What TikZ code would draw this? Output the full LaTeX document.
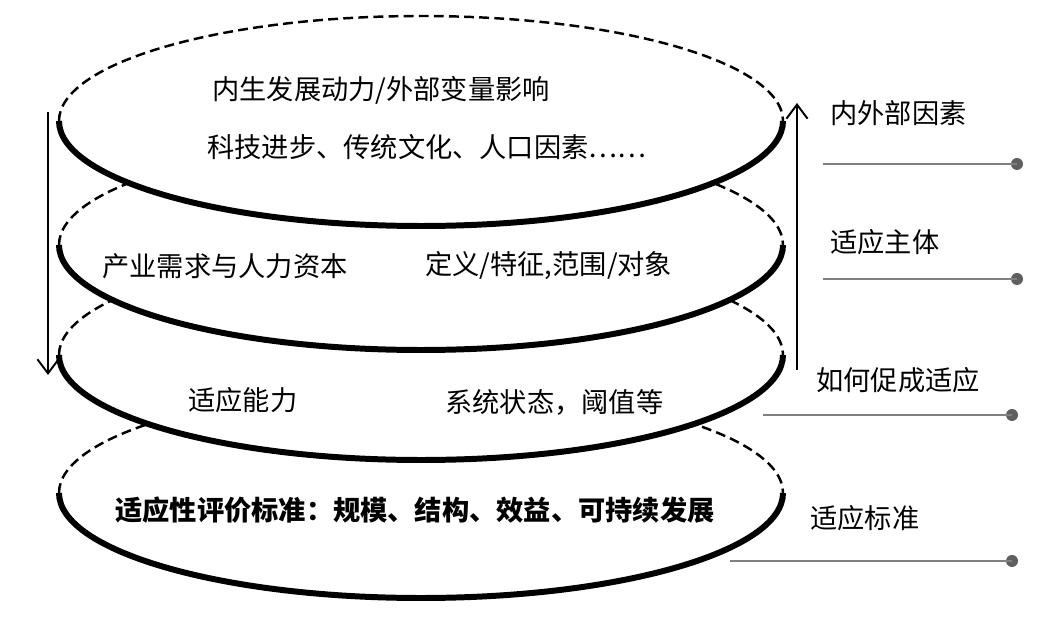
\documentclass[tikz,border=0pt]{standalone}
\usepackage{fontspec}
\newfontfamily\cjk{Noto Sans CJK SC}
\usetikzlibrary{arrows.meta}
\definecolor{linegray}{RGB}{128,128,128}
\definecolor{dotgray}{RGB}{95,95,95}
\tikzset{
  layertop/.style={line width=1.4pt, dash pattern=on 5.6pt off 3pt},
  layerbottom/.style={line width=3.4pt},
  layertext/.style={font=\cjk\fontsize{15.5}{18}\selectfont, inner sep=0pt, anchor=west},
  sidelabel/.style={layertext},
  flow/.style={line width=1.1pt, -{Straight Barb[length=8pt,width=12pt,line width=1.1pt]}},
  leader/.style={linegray, line width=1.1pt},
  enddot/.style={circle, fill=dotgray, minimum size=0.24cm, inner sep=0pt}
}
\begin{document}
\begin{tikzpicture}[xshift=0cm, scale=1]

    \useasboundingbox (0,0) rectangle (21.12,12.5);

    % Stacked layers, drawn bottom to top so each one covers the one below
    \foreach \cy in {2.64,5.4,7.6,10.08} {
        \fill[white] (8.42,\cy) ellipse [x radius=7.24, y radius=2.1];
        \draw[layertop] (1.18,\cy) arc [start angle=180, end angle=0, x radius=7.24, y radius=2.1];
        \draw[layerbottom] (1.18,\cy) arc [start angle=180, end angle=360, x radius=7.24, y radius=2.1];
    }

    % Texts inside the layers
    \node[layertext] (force) at (4.24, 10.7) {内生发展动力/外部变量影响};
    \node[layertext] (factors) at (4.14, 9.56) {科技进步、传统文化、人口因素……};
    \node[layertext] (demand) at (2.04, 7.18) {产业需求与人力资本};
    \node[layertext] (define) at (8.5, 7.18) {定义/特征,范围/对象};
    \node[layertext] (ability) at (3.76, 4.5) {适应能力};
    \node[layertext] (state) at (8.9, 4.46) {系统状态，阈值等};
    \node[layertext, font=\cjk\bfseries\fontsize{15.5}{18}\selectfont] (criteria) at (2.3, 2.3) {适应性评价标准：规模、结构、效益、可持续发展};

    % Down arrow on the left, up arrow on the right
    \coordinate (downstart) at (0.96, 10.26);
    \coordinate (downend) at (0.96, 5.0);
    \coordinate (upstart) at (15.94, 5.1);
    \coordinate (upend) at (15.94, 10.44);
    \draw[flow] (downstart) -- (downend);
    \draw[flow] (upstart) -- (upend);

    % Labels on the right with leader lines
    \node[sidelabel] (outer) at (16.6, 10.24) {内外部因素};
    \node[sidelabel] (subject) at (16.6, 7.66) {适应主体};
    \node[sidelabel] (how) at (16.32, 4.9) {如何促成适应};
    \node[sidelabel] (standard) at (16.2, 2.14) {适应标准};

    \coordinate (lead1) at (16.46, 9.22);
    \coordinate (lead2) at (16.46, 6.92);
    \coordinate (lead3) at (15.26, 4.2);
    \coordinate (lead4) at (14.6, 1.28);
    \node[enddot] (dot1) at (20.34, 9.22) {};
    \node[enddot] (dot2) at (20.34, 6.92) {};
    \node[enddot] (dot3) at (20.24, 4.2) {};
    \node[enddot] (dot4) at (20.24, 1.28) {};
    \draw[leader] (lead1) -- (dot1.center);
    \draw[leader] (lead2) -- (dot2.center);
    \draw[leader] (lead3) -- (dot3.center);
    \draw[leader] (lead4) -- (dot4.center);
\end{tikzpicture}
\end{document}
